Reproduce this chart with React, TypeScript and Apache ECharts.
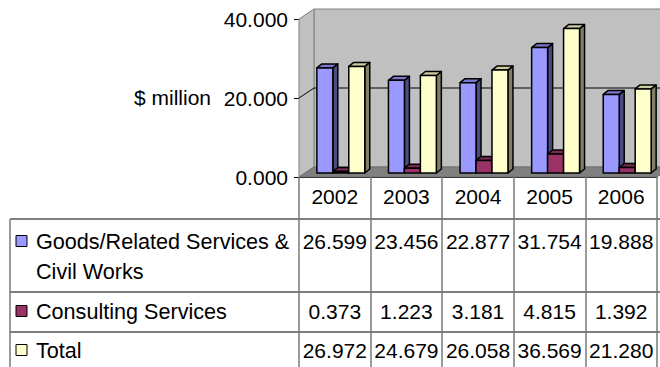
import React, { useEffect, useRef } from "react";
import * as echarts from "echarts";

const years = ["2002", "2003", "2004", "2005", "2006"];
const goodsCivil = [26.599, 23.456, 22.877, 31.754, 19.888];
const consulting = [0.373, 1.223, 3.181, 4.815, 1.392];
const total = [26.972, 24.679, 26.058, 36.569, 21.28];
const seriesNames = ["Goods/Related Services & Civil Works", "Consulting Services", "Total"];
const yMin = 0;
const yMax = 40;
const yInterval = 20;
const yAxisTitle = "$ million";

const FONT = "'Liberation Sans', Arial, sans-serif";
const FS = 21;
const palette = [
  { front: "#9999ff", top: "#7878cc", side: "#4c4c80" },
  { front: "#993366", top: "#7a2952", side: "#4d1a33" },
  { front: "#ffffcc", top: "#cccca3", side: "#808066" },
];

// 3D geometry
const DX = 15;
const DY = -10;
const FX = 6;
const FY = -4;
const BDX = 5;
const BDY = -4;

export default function App() {
  const ref = useRef<HTMLDivElement>(null);

  useEffect(() => {
    if (!ref.current) return;
    const chart = echarts.init(ref.current, null, { renderer: "svg" });
    const allSeries = [goodsCivil, consulting, total];

    const wallSeries: any = {
      type: "custom",
      name: "walls",
      silent: true,
      z: 1,
      data: [[0, 0]],
      renderItem: (params: any, api: any) => {
        const cs = params.coordSys;
        const cx = cs.x;
        const cy = cs.y;
        const w = cs.width;
        const h = cs.height;
        const y20 = api.coord([0, yInterval])[1];
        return {
          type: "group",
          children: [
            {
              type: "rect",
              shape: { x: cx + DX, y: cy + DY, width: w, height: h },
              style: { fill: "#c0c0c0", stroke: "#808080", lineWidth: 1 },
            },
            {
              type: "polygon",
              shape: { points: [[cx, cy], [cx + DX, cy + DY], [cx + DX, cy + h + DY], [cx, cy + h]] },
              style: { fill: "#c0c0c0", stroke: "#808080", lineWidth: 1 },
            },
            {
              type: "polygon",
              shape: {
                points: [[cx, cy + h], [cx + DX, cy + h + DY], [cx + w + DX, cy + h + DY], [cx + w, cy + h]],
              },
              style: { fill: "#808080", stroke: "#707070", lineWidth: 1 },
            },
            {
              type: "line",
              shape: { x1: cx + DX, y1: y20 + DY, x2: cx + w + DX, y2: y20 + DY },
              style: { stroke: "#000", lineWidth: 1 },
            },
            {
              type: "line",
              shape: { x1: cx, y1: y20, x2: cx + DX, y2: y20 + DY },
              style: { stroke: "#000", lineWidth: 1 },
            },
          ],
        };
      },
    };

    const barSeries = allSeries.map((vals, s) => ({
      type: "custom",
      name: seriesNames[s],
      silent: true,
      z: 2 + s,
      data: vals.map((v, i) => [i, v]),
      renderItem: (params: any, api: any) => {
        const c = api.value(0);
        const v = api.value(1);
        const top = api.coord([c, v]);
        const base = api.coord([c, 0]);
        const band = api.size([1, 0])[0];
        const bw = band * 0.223;
        const xc = top[0] + (s - 1) * bw;
        const left = xc - bw / 2 + FX;
        const right = left + bw;
        const ty = top[1] + FY;
        const by = base[1] + FY;
        const col = palette[s];
        const st = { stroke: "#000", lineWidth: 1.5, lineJoin: "round" };
        return {
          type: "group",
          children: [
            {
              type: "polygon",
              shape: { points: [[right, ty], [right + BDX, ty + BDY], [right + BDX, by + BDY], [right, by]] },
              style: { fill: col.side, ...st },
            },
            {
              type: "polygon",
              shape: { points: [[left, ty], [left + BDX, ty + BDY], [right + BDX, ty + BDY], [right, ty]] },
              style: { fill: col.top, ...st },
            },
            {
              type: "rect",
              shape: { x: left, y: ty, width: bw, height: by - ty },
              style: { fill: col.front, ...st },
            },
          ],
        };
      },
    }));

    const rowY = [241, 311, 350];
    const tableSeries: any = {
      type: "custom",
      name: "table",
      silent: true,
      z: 10,
      data: years.map((_, i) => [i, 0]),
      renderItem: (params: any, api: any) => {
        const i = api.value(0);
        const x = api.coord([i, 0])[0];
        return {
          type: "group",
          children: allSeries.map((vals, s) => ({
            type: "text",
            x: x,
            y: rowY[s],
            style: {
              text: vals[i].toFixed(3),
              align: "center",
              verticalAlign: "middle",
              fontSize: FS,
              fontFamily: FONT,
              fill: "#000",
            },
          })),
        };
      },
    };

    const labelText = (text: string, x: number, y: number, align = "left", fs = FS) => ({
      type: "text",
      x,
      y,
      style: { text, align, verticalAlign: "middle", fontSize: fs, fontFamily: FONT, fill: "#000" },
      silent: true,
    });
    const square = (fill: string, cy: number) => ({
      type: "rect",
      shape: { x: 16, y: cy - 5.5, width: 11, height: 11 },
      style: { fill, stroke: "#000", lineWidth: 1 },
      silent: true,
    });
    const hLine = (y: number) => ({
      type: "line",
      shape: { x1: 10, y1: y, x2: 660, y2: y },
      style: { stroke: "#000", lineWidth: 1.2 },
      silent: true,
    });
    const LFS = 21.6;

    chart.setOption({
      animation: false,
      backgroundColor: "#ffffff",
      grid: { left: 299, top: 19, width: 358, height: 158, containLabel: false },
      xAxis: {
        type: "category",
        data: years,
        boundaryGap: true,
        axisLine: { show: true, lineStyle: { color: "#000", width: 1 } },
        axisTick: { show: true, interval: 0, length: 190, lineStyle: { color: "#7a7a7a", width: 1.5 } },
        axisLabel: { margin: 9, fontSize: FS, fontFamily: FONT, color: "#000", interval: 0 },
        splitLine: { show: false },
      },
      yAxis: {
        type: "value",
        min: yMin,
        max: yMax,
        interval: yInterval,
        axisLine: { show: true, lineStyle: { color: "#000", width: 1 } },
        axisTick: { show: true, length: 5, lineStyle: { color: "#000" } },
        axisLabel: {
          margin: 11,
          fontSize: FS,
          fontFamily: FONT,
          color: "#000",
          formatter: (v: number) => v.toFixed(3),
        },
        splitLine: { show: false },
      },
      graphic: [
        labelText(yAxisTitle, 211, 97, "right"),
        hLine(219),
        hLine(292),
        hLine(332),
        {
          type: "line",
          shape: { x1: 10, y1: 219, x2: 10, y2: 367 },
          style: { stroke: "#7a7a7a", lineWidth: 1.5 },
          silent: true,
        },
        square(palette[0].front, 241),
        labelText("Goods/Related Services &", 36, 241, "left", LFS),
        labelText("Civil Works", 36, 271, "left", LFS),
        square(palette[1].front, 311),
        labelText(seriesNames[1], 36, 311, "left", LFS),
        square(palette[2].front, 350),
        labelText(seriesNames[2], 36, 350, "left", LFS),
      ],
      series: [wallSeries, ...barSeries, tableSeries],
    });

    return () => chart.dispose();
  }, []);

  return (
    <div
      ref={ref}
      style={{ position: "fixed", left: 0, top: 0, width: 660, height: 367, background: "#fff" }}
    />
  );
}
